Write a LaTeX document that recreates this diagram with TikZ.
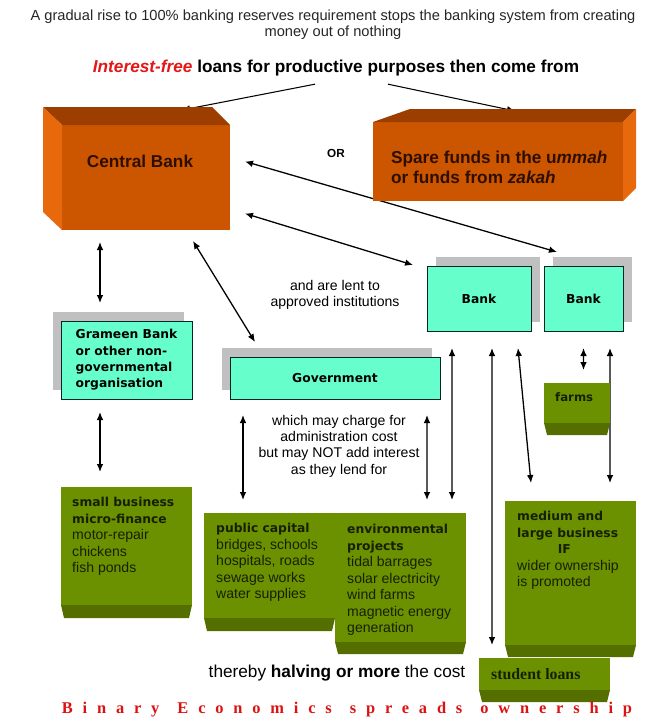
\documentclass[tikz,border=0pt]{standalone}
\usepackage{fontspec}
\setmainfont{Liberation Sans}
\newfontfamily\dvfont{DejaVu Sans}
\newfontfamily\timesfont{Liberation Serif}
\newfontfamily\mottofont[LetterSpace=60]{Liberation Serif}
\usepackage{tikz}
\usetikzlibrary{arrows.meta,shadows,backgrounds}
\definecolor{cbfront}{RGB}{204,85,0}
\definecolor{cbtop}{RGB}{155,62,0}
\definecolor{cbside}{RGB}{232,104,12}
\definecolor{cbink}{RGB}{45,15,0}
\definecolor{aqua}{RGB}{102,255,204}
\definecolor{shade}{RGB}{192,192,192}
\definecolor{gfront}{RGB}{108,145,0}
\definecolor{gbevel}{RGB}{84,110,0}
\definecolor{gink}{RGB}{22,32,0}
\definecolor{leadred}{RGB}{228,22,22}
\definecolor{mottored}{RGB}{218,18,18}
\newcommand{\gbold}[1]{{\dvfont\bfseries\fontsize{10.5}{14.1}\selectfont #1}}

\begin{document}
\begin{tikzpicture}[x=0.03cm, y=-0.03cm, >={Latex[length=2.4mm, width=2mm]},
	link/.style={<->, line width=1.1pt},
	feed/.style={->, line width=0.9pt},
	intro/.style={align=center, text=black!85, font=\fontsize{12.5}{13.7}\selectfont},
	lead/.style={font=\bfseries\fontsize{14.7}{17}\selectfont},
	ortext/.style={font=\bfseries\fontsize{10}{12}\selectfont},
	midtext/.style={align=center, font=\fontsize{12}{14}\selectfont},
	costtext/.style={font=\fontsize{14.7}{17}\selectfont},
	motto/.style={text=mottored, font=\mottofont\bfseries\fontsize{14}{16}\selectfont},
	orangeface/.style={fill=cbfront, inner sep=0pt, outer sep=0pt, anchor=north west},
	orangetop/.style={fill=cbtop},
	orangeside/.style={fill=cbside},
	orangelabel/.style={text=cbink, font=\bfseries\fontsize{14.7}{17}\selectfont},
	cyanbox/.style={draw=black!70!teal, line width=0.8pt, fill=aqua, inner sep=0pt, outer sep=0pt, anchor=north west, align=left, font=\dvfont\bfseries\fontsize{10.5}{14}\selectfont},
	shadowleft/.style={drop shadow={shadow xshift=-0.24cm, shadow yshift=0.26cm, fill=shade, opacity=1}},
	shadowright/.style={drop shadow={shadow xshift=0.28cm, shadow yshift=0.28cm, fill=shade, opacity=1}},
	greenface/.style={fill=gfront, inner sep=0pt, outer sep=0pt, anchor=north west},
	greentext/.style={anchor=north west, align=left, inner sep=0pt, text=gink, font=\fontsize{12}{14.1}\selectfont},
	farmtext/.style={anchor=west, inner sep=0pt, text=gink, font=\dvfont\bfseries\fontsize{10}{12}\selectfont},
	loantext/.style={anchor=west, inner sep=0pt, text=gink, font=\timesfont\bfseries\fontsize{13.5}{16}\selectfont}]
	\useasboundingbox (0,0) rectangle (664,726);

	\node[intro] (intro) at (333,25) {A gradual rise to 100\% banking reserves requirement stops the banking system from creating\\money out of nothing};
	\node[lead] (lead) at (336,68) {\textcolor{leadred}{\textit{Interest-free}} loans for productive purposes then come from};

	\node[orangeface, minimum width=5.04cm, minimum height=3.15cm] (cb) at (62,125) {};
	\fill[orangetop] (cb.north west) -- ++(-19,-18) -- ++(169,0) -- (cb.north east) -- cycle;
	\fill[orangeside] (cb.north west) -- ++(-19,-18) -- ++(0,105) -- (cb.south west) -- cycle;
	\node[orangelabel] (cbname) at ([shift={(-6,-16)}]cb.center) {Central Bank};

	\node[orangeface, minimum width=7.5cm, minimum height=2.37cm] (spare) at (373,122) {};
	\fill[orangetop] (spare.north west) -- ++(37,-13) -- ++(226,0) -- (spare.north east) -- cycle;
	\fill[orangeside] (spare.north east) -- ++(13,-13) -- ++(0,79) -- (spare.south east) -- cycle;
	\node[orangelabel, anchor=west, align=left] (sparename) at ([shift={(14,6)}]spare.west) {Spare funds in the u\textit{mmah}\\or funds from \textit{zakah}};

	\node[ortext] (or) at (336,153) {OR};

	\node[cyanbox, shadowleft, minimum width=3.93cm, minimum height=2.34cm] (grameen) at (61,321) {Grameen Bank\\or other non-\\governmental\\organisation};
	\node[cyanbox, shadowleft, minimum width=6.3cm, minimum height=1.26cm, align=center] (gov) at (230,357) {Government};
	\node[cyanbox, shadowright, minimum width=3.12cm, minimum height=1.95cm, align=center] (bank1) at (427,266) {Bank};
	\node[cyanbox, shadowright, minimum width=2.37cm, minimum height=1.95cm, align=center] (bank2) at (544,266) {Bank};

	\node[midtext] (lent) at (335,295) {and are lent to\\approved institutions};
	\node[midtext] (charge) at (339,446) {which may charge for\\administration cost\\but may NOT add interest\\as they lend for};

	\node[greenface, minimum width=3.93cm, minimum height=3.54cm] (sb) at (61,487) {};
	\node[greenface, minimum width=3.93cm, minimum height=3.15cm] (pc) at (204,513) {};
	\node[greenface, minimum width=3.93cm, minimum height=3.87cm] (ep) at (335,513) {};
	\node[greenface, minimum width=3.93cm, minimum height=4.32cm] (ml) at (505,501) {};
	\node[greenface, minimum width=1.98cm, minimum height=1.2cm] (farms) at (544,383) {};
	\node[greenface, minimum width=3.93cm, minimum height=0.96cm] (sl) at (479,658) {};
	\foreach \b/\h in {sb/13, pc/13, ep/12, ml/12, farms/12, sl/12}
		\fill[gbevel] (\b.south west) -- (\b.south east) -- ++(-3,\h) -- ([shift={(3,\h)}]\b.south west) -- cycle;

	\node[greentext] (sbtext) at ([shift={(11,10)}]sb.north west) {\gbold{small business}\\\gbold{micro-finance}\\motor-repair\\chickens\\fish ponds};
	\node[greentext] (pctext) at ([shift={(12,10)}]pc.north west) {\gbold{public capital}\\bridges, schools\\hospitals, roads\\sewage works\\water supplies};
	\node[greentext] (eptext) at ([shift={(12,11)}]ep.north west) {\gbold{environmental}\\\gbold{projects}\\tidal barrages\\solar electricity\\wind farms\\magnetic energy\\generation};
	\node[greentext] (mltext) at ([shift={(12,10)}]ml.north west) {\gbold{medium and}\\\gbold{large business}\\\gbold{\hspace*{3.3em}IF}\\wider ownership\\is promoted};
	\node[farmtext] (farmsname) at ([shift={(11,-6)}]farms.west) {farms};
	\node[loantext] (slname) at ([shift={(12,0)}]sl.west) {student loans};

	\node[costtext] (cost) at (337,673) {thereby \textbf{halving or more} the cost};
	\node[motto] (motto) at (347,710) {Binary\hspace{1.1em}Economics\hspace{1.1em}spreads\hspace{1.1em}ownership};

	\begin{scope}[on background layer]
		\draw[feed] ([shift={(-21,4)}]lead.south) -- ([shift={(36,-15)}]cb.north);
		\draw[feed] ([shift={(52,4)}]lead.south) -- ([shift={(17,-11)}]spare.north);
		\draw[link] ([shift={(15,-16)}]cb.east) -- ([shift={(13,-14)}]bank2.north west);
		\draw[link] ([shift={(15,36)}]cb.east) -- ([shift={(-14,-1)}]bank1.north west);
		\draw[link] ([shift={(38,12)}]cb.south west) -- ([shift={(39,-18)}]grameen.north west);
		\draw[link] ([shift={(-37,11)}]cb.south east) -- ([shift={(25,-15)}]gov.north west);
		\draw[link] ([shift={(39,13)}]grameen.south west) -- ([shift={(39,-15)}]sb.north west);
		\draw[link] ([shift={(13,16)}]gov.south west) -- ([shift={(39,-13)}]pc.north west);
		\draw[link] ([shift={(-13,16)}]gov.south east) -- ([shift={(92,-13)}]ep.north west);
		\draw[link] ([shift={(25,17)}]bank1.south west) -- ([shift={(-14,-13)}]ep.north east);
		\draw[link] ([shift={(13,17)}]bank1.south) -- ([shift={(13,-13)}]sl.north west);
		\draw[link] ([shift={(-13,17)}]bank1.south east) -- ([shift={(26,-18)}]ml.north west);
		\draw[link] ([shift={(0,17)}]bank2.south) -- ([shift={(6.5,-13)}]farms.north);
		\draw[link] ([shift={(-13,17)}]bank2.south east) -- ([shift={(-26,-18)}]ml.north east);
	\end{scope}
\end{tikzpicture}
\end{document}
